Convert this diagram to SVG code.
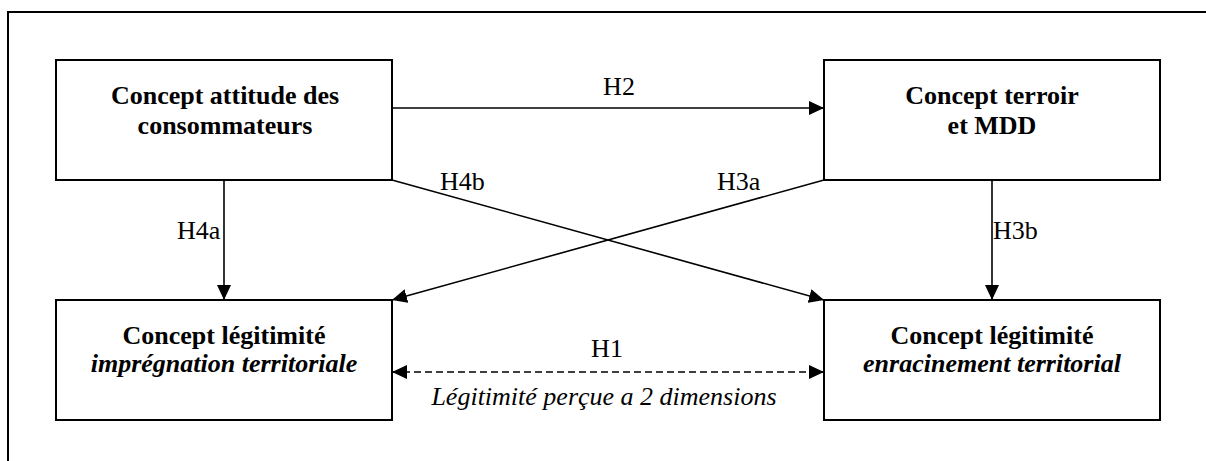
<svg xmlns="http://www.w3.org/2000/svg" width="1206" height="461" viewBox="0 0 1206 461">
<style>
.box{fill:#fff;stroke:#000;stroke-width:2}
.b{font-weight:bold}
.i{font-style:italic}
.c{text-anchor:middle}
.ln{stroke:#000;stroke-width:1.6;fill:none}
.dash{stroke-dasharray:7 4}
</style>
<defs>
<marker id="ah" markerUnits="userSpaceOnUse" markerWidth="16" markerHeight="14" refX="15" refY="7" orient="auto-start-reverse">
<path d="M0,0 L15,7 L0,14 Z" fill="#000"/>
</marker>
</defs>
<g id="frame">
<path d="M8,461 L8,12 L1206,12" fill="none" stroke="#000" stroke-width="2"/>
</g>
<g id="connectors">
<line class="ln" x1="392" y1="108" x2="824" y2="108" marker-end="url(#ah)"/>
<line class="ln" x1="224" y1="180" x2="224" y2="300" marker-end="url(#ah)"/>
<line class="ln" x1="992" y1="180" x2="992" y2="300" marker-end="url(#ah)"/>
<line class="ln" x1="392" y1="180" x2="824" y2="300" marker-end="url(#ah)"/>
<line class="ln" x1="824" y1="180" x2="392" y2="300" marker-end="url(#ah)"/>
<line class="ln dash" x1="392" y1="372" x2="824" y2="372" marker-start="url(#ah)" marker-end="url(#ah)"/>
<text class="c" x="619" y="95" font-family="Liberation Serif" font-size="26">H2</text>
<text x="177" y="239" font-family="Liberation Serif" font-size="26">H4a</text>
<text x="993" y="239" font-family="Liberation Serif" font-size="26">H3b</text>
<text x="440" y="190" font-family="Liberation Serif" font-size="26">H4b</text>
<text x="717" y="190" font-family="Liberation Serif" font-size="26">H3a</text>
<text class="c" x="607" y="357" font-family="Liberation Serif" font-size="26">H1</text>
<text class="i c" x="604" y="405" font-family="Liberation Serif" font-size="26">Légitimité perçue a 2 dimensions</text>
</g>
<g id="n1">
<rect class="box" x="56" y="60" width="336" height="120"/>
<text class="b c" x="225" y="104" font-family="Liberation Serif" font-size="26">Concept attitude des</text>
<text class="b c" x="225" y="134" font-family="Liberation Serif" font-size="26">consommateurs</text>
</g>
<g id="n2">
<rect class="box" x="824" y="60" width="336" height="120"/>
<text class="b c" x="992" y="104" font-family="Liberation Serif" font-size="26">Concept terroir</text>
<text class="b c" x="992" y="134" font-family="Liberation Serif" font-size="26">et MDD</text>
</g>
<g id="n3">
<rect class="box" x="56" y="300" width="336" height="120"/>
<text class="b c" x="224" y="344" font-family="Liberation Serif" font-size="26">Concept légitimité</text>
<text class="b i c" x="224" y="372" font-family="Liberation Serif" font-size="26">imprégnation territoriale</text>
</g>
<g id="n4">
<rect class="box" x="824" y="300" width="336" height="120"/>
<text class="b c" x="992" y="344" font-family="Liberation Serif" font-size="26">Concept légitimité</text>
<text class="b i c" x="992" y="372" font-family="Liberation Serif" font-size="26">enracinement territorial</text>
</g>
</svg>
